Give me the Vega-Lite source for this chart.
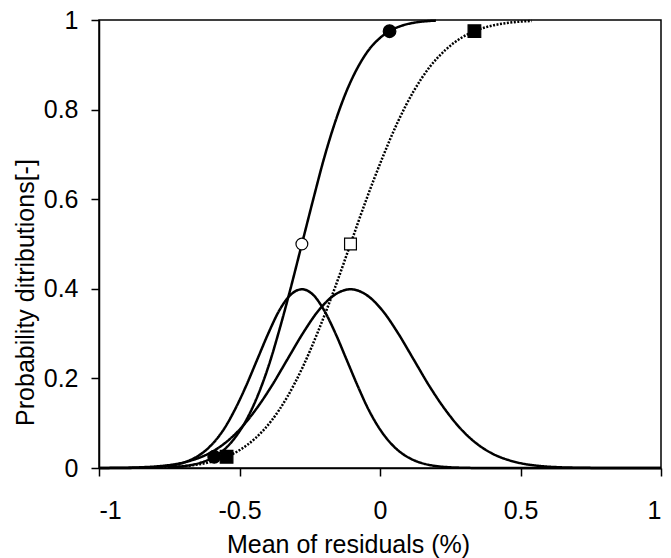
{
  "$schema": "https://vega.github.io/schema/vega-lite/v6.json",
  "width": 562,
  "height": 448,
  "autosize": "none",
  "padding": {"left": 99, "top": 20, "right": 10, "bottom": 90},
  "background": "white",
  "config": {
    "font": "Liberation Sans",
    "view": {"stroke": "black", "strokeWidth": 1.5},
    "axis": {
      "grid": false,
      "domainColor": "black",
      "domainWidth": 1.5,
      "tickColor": "black",
      "tickWidth": 1.5,
      "tickSize": 8,
      "labelFontSize": 25,
      "labelColor": "black",
      "labelFont": "Liberation Sans",
      "titleFont": "Liberation Sans",
      "titleFontSize": 25,
      "titleFontWeight": "normal",
      "titleColor": "black"
    }
  },
  "datasets": {
    "curves": [
      {"series": "pdf1", "x": -1.0, "y": 0.0},
      {"series": "pdf1", "x": -0.914, "y": 0.00013},
      {"series": "pdf1", "x": -0.835, "y": 0.00087},
      {"series": "pdf1", "x": -0.795, "y": 0.00203},
      {"series": "pdf1", "x": -0.755, "y": 0.00443},
      {"series": "pdf1", "x": -0.715, "y": 0.00909},
      {"series": "pdf1", "x": -0.676, "y": 0.01753},
      {"series": "pdf1", "x": -0.636, "y": 0.03174},
      {"series": "pdf1", "x": -0.596, "y": 0.05399},
      {"series": "pdf1", "x": -0.556, "y": 0.08628},
      {"series": "pdf1", "x": -0.517, "y": 0.12952},
      {"series": "pdf1", "x": -0.477, "y": 0.18265},
      {"series": "pdf1", "x": -0.437, "y": 0.24197},
      {"series": "pdf1", "x": -0.397, "y": 0.30114},
      {"series": "pdf1", "x": -0.358, "y": 0.35207},
      {"series": "pdf1", "x": -0.318, "y": 0.38667},
      {"series": "pdf1", "x": -0.278, "y": 0.39894},
      {"series": "pdf1", "x": -0.238, "y": 0.38667},
      {"series": "pdf1", "x": -0.199, "y": 0.35207},
      {"series": "pdf1", "x": -0.159, "y": 0.30114},
      {"series": "pdf1", "x": -0.119, "y": 0.24197},
      {"series": "pdf1", "x": -0.079, "y": 0.18265},
      {"series": "pdf1", "x": -0.04, "y": 0.12952},
      {"series": "pdf1", "x": 0.0, "y": 0.08628},
      {"series": "pdf1", "x": 0.04, "y": 0.05399},
      {"series": "pdf1", "x": 0.08, "y": 0.03174},
      {"series": "pdf1", "x": 0.12, "y": 0.01753},
      {"series": "pdf1", "x": 0.159, "y": 0.00909},
      {"series": "pdf1", "x": 0.199, "y": 0.00443},
      {"series": "pdf1", "x": 0.239, "y": 0.00203},
      {"series": "pdf1", "x": 0.279, "y": 0.00087},
      {"series": "pdf1", "x": 0.358, "y": 0.00013},
      {"series": "pdf1", "x": 1.0, "y": 0.0},

      {"series": "pdf2", "x": -1.0, "y": 0.00014},
      {"series": "pdf2", "x": -0.893, "y": 0.00087},
      {"series": "pdf2", "x": -0.836, "y": 0.00203},
      {"series": "pdf2", "x": -0.78, "y": 0.00443},
      {"series": "pdf2", "x": -0.724, "y": 0.00909},
      {"series": "pdf2", "x": -0.668, "y": 0.01753},
      {"series": "pdf2", "x": -0.611, "y": 0.03174},
      {"series": "pdf2", "x": -0.555, "y": 0.05399},
      {"series": "pdf2", "x": -0.499, "y": 0.08628},
      {"series": "pdf2", "x": -0.443, "y": 0.12952},
      {"series": "pdf2", "x": -0.386, "y": 0.18265},
      {"series": "pdf2", "x": -0.33, "y": 0.24197},
      {"series": "pdf2", "x": -0.274, "y": 0.30114},
      {"series": "pdf2", "x": -0.218, "y": 0.35207},
      {"series": "pdf2", "x": -0.161, "y": 0.38667},
      {"series": "pdf2", "x": -0.105, "y": 0.39894},
      {"series": "pdf2", "x": -0.049, "y": 0.38667},
      {"series": "pdf2", "x": 0.008, "y": 0.35207},
      {"series": "pdf2", "x": 0.064, "y": 0.30114},
      {"series": "pdf2", "x": 0.12, "y": 0.24197},
      {"series": "pdf2", "x": 0.176, "y": 0.18265},
      {"series": "pdf2", "x": 0.233, "y": 0.12952},
      {"series": "pdf2", "x": 0.289, "y": 0.08628},
      {"series": "pdf2", "x": 0.345, "y": 0.05399},
      {"series": "pdf2", "x": 0.401, "y": 0.03174},
      {"series": "pdf2", "x": 0.458, "y": 0.01753},
      {"series": "pdf2", "x": 0.514, "y": 0.00909},
      {"series": "pdf2", "x": 0.57, "y": 0.00443},
      {"series": "pdf2", "x": 0.626, "y": 0.00203},
      {"series": "pdf2", "x": 0.683, "y": 0.00087},
      {"series": "pdf2", "x": 0.795, "y": 0.00013},
      {"series": "pdf2", "x": 1.0, "y": 0.0},

      {"series": "cdf1", "x": -0.755, "y": 0.00135},
      {"series": "cdf1", "x": -0.715, "y": 0.00298},
      {"series": "cdf1", "x": -0.676, "y": 0.00621},
      {"series": "cdf1", "x": -0.636, "y": 0.01222},
      {"series": "cdf1", "x": -0.596, "y": 0.02275},
      {"series": "cdf1", "x": -0.556, "y": 0.04006},
      {"series": "cdf1", "x": -0.517, "y": 0.06681},
      {"series": "cdf1", "x": -0.477, "y": 0.10565},
      {"series": "cdf1", "x": -0.437, "y": 0.15866},
      {"series": "cdf1", "x": -0.397, "y": 0.22663},
      {"series": "cdf1", "x": -0.358, "y": 0.30854},
      {"series": "cdf1", "x": -0.318, "y": 0.40129},
      {"series": "cdf1", "x": -0.278, "y": 0.5},
      {"series": "cdf1", "x": -0.238, "y": 0.59871},
      {"series": "cdf1", "x": -0.199, "y": 0.69146},
      {"series": "cdf1", "x": -0.159, "y": 0.77337},
      {"series": "cdf1", "x": -0.119, "y": 0.84134},
      {"series": "cdf1", "x": -0.079, "y": 0.89435},
      {"series": "cdf1", "x": -0.04, "y": 0.93319},
      {"series": "cdf1", "x": 0.0, "y": 0.95994},
      {"series": "cdf1", "x": 0.04, "y": 0.97725},
      {"series": "cdf1", "x": 0.08, "y": 0.98778},
      {"series": "cdf1", "x": 0.12, "y": 0.99379},
      {"series": "cdf1", "x": 0.159, "y": 0.99702},
      {"series": "cdf1", "x": 0.199, "y": 0.99865},

      {"series": "cdf2", "x": -0.78, "y": 0.00135},
      {"series": "cdf2", "x": -0.724, "y": 0.00298},
      {"series": "cdf2", "x": -0.668, "y": 0.00621},
      {"series": "cdf2", "x": -0.611, "y": 0.01222},
      {"series": "cdf2", "x": -0.555, "y": 0.02275},
      {"series": "cdf2", "x": -0.499, "y": 0.04006},
      {"series": "cdf2", "x": -0.443, "y": 0.06681},
      {"series": "cdf2", "x": -0.386, "y": 0.10565},
      {"series": "cdf2", "x": -0.33, "y": 0.15866},
      {"series": "cdf2", "x": -0.274, "y": 0.22663},
      {"series": "cdf2", "x": -0.218, "y": 0.30854},
      {"series": "cdf2", "x": -0.161, "y": 0.40129},
      {"series": "cdf2", "x": -0.105, "y": 0.5},
      {"series": "cdf2", "x": -0.049, "y": 0.59871},
      {"series": "cdf2", "x": 0.008, "y": 0.69146},
      {"series": "cdf2", "x": 0.064, "y": 0.77337},
      {"series": "cdf2", "x": 0.12, "y": 0.84134},
      {"series": "cdf2", "x": 0.176, "y": 0.89435},
      {"series": "cdf2", "x": 0.233, "y": 0.93319},
      {"series": "cdf2", "x": 0.289, "y": 0.95994},
      {"series": "cdf2", "x": 0.345, "y": 0.97725},
      {"series": "cdf2", "x": 0.401, "y": 0.98778},
      {"series": "cdf2", "x": 0.458, "y": 0.99379},
      {"series": "cdf2", "x": 0.514, "y": 0.99702},
      {"series": "cdf2", "x": 0.54, "y": 0.99795}
    ],
    "markers": [
      {"group": "1", "kind": "bound", "x": -0.59, "y": 0.025},
      {"group": "1", "kind": "mean", "x": -0.278, "y": 0.5},
      {"group": "1", "kind": "bound", "x": 0.034, "y": 0.975},
      {"group": "2", "kind": "bound", "x": -0.546, "y": 0.025},
      {"group": "2", "kind": "mean", "x": -0.105, "y": 0.5},
      {"group": "2", "kind": "bound", "x": 0.336, "y": 0.975}
    ]
  },
  "layer": [
    {
      "data": {"name": "curves"},
      "mark": {"type": "line", "interpolate": "monotone", "strokeWidth": 2.5, "color": "black"},
      "encoding": {
        "x": {
          "field": "x", "type": "quantitative",
          "scale": {"domain": [-1, 1], "nice": false},
          "axis": {
            "values": [-1, -0.5, 0, 0.5, 1],
            "labelExpr": "'' + datum.value",
            "labelPadding": 22,
            "title": "Mean of residuals (%)",
            "titleX": 249,
            "titleY": 84,
            "titleAlign": "center",
            "titleBaseline": "alphabetic"
          }
        },
        "y": {
          "field": "y", "type": "quantitative",
          "scale": {"domain": [0, 1], "nice": false},
          "axis": {
            "values": [0, 0.2, 0.4, 0.6, 0.8, 1],
            "labelExpr": "'' + datum.value",
            "labelPadding": 13,
            "title": "Probability ditributions[-]",
            "titleX": -66,
            "titleY": 272,
            "titleAngle": -90,
            "titleAlign": "center",
            "titleBaseline": "alphabetic"
          }
        },
        "detail": {"field": "series"},
        "strokeDash": {
          "field": "series", "type": "nominal",
          "scale": {"domain": ["pdf1", "cdf1", "pdf2", "cdf2"], "range": [[1, 0], [1, 0], [1, 0], [2, 1.5]]},
          "legend": null
        }
      }
    },
    {
      "data": {"name": "markers"},
      "mark": {"type": "point", "stroke": "black", "strokeWidth": 1.2, "opacity": 1},
      "encoding": {
        "x": {"field": "x", "type": "quantitative"},
        "y": {"field": "y", "type": "quantitative"},
        "shape": {
          "field": "group", "type": "nominal",
          "scale": {"domain": ["1", "2"], "range": ["circle", "square"]},
          "legend": null
        },
        "fill": {
          "field": "kind", "type": "nominal",
          "scale": {"domain": ["bound", "mean"], "range": ["black", "white"]},
          "legend": null
        },
        "size": {
          "field": "kind", "type": "nominal",
          "scale": {"domain": ["bound", "mean"], "range": [160, 140]},
          "legend": null
        }
      }
    }
  ]
}
